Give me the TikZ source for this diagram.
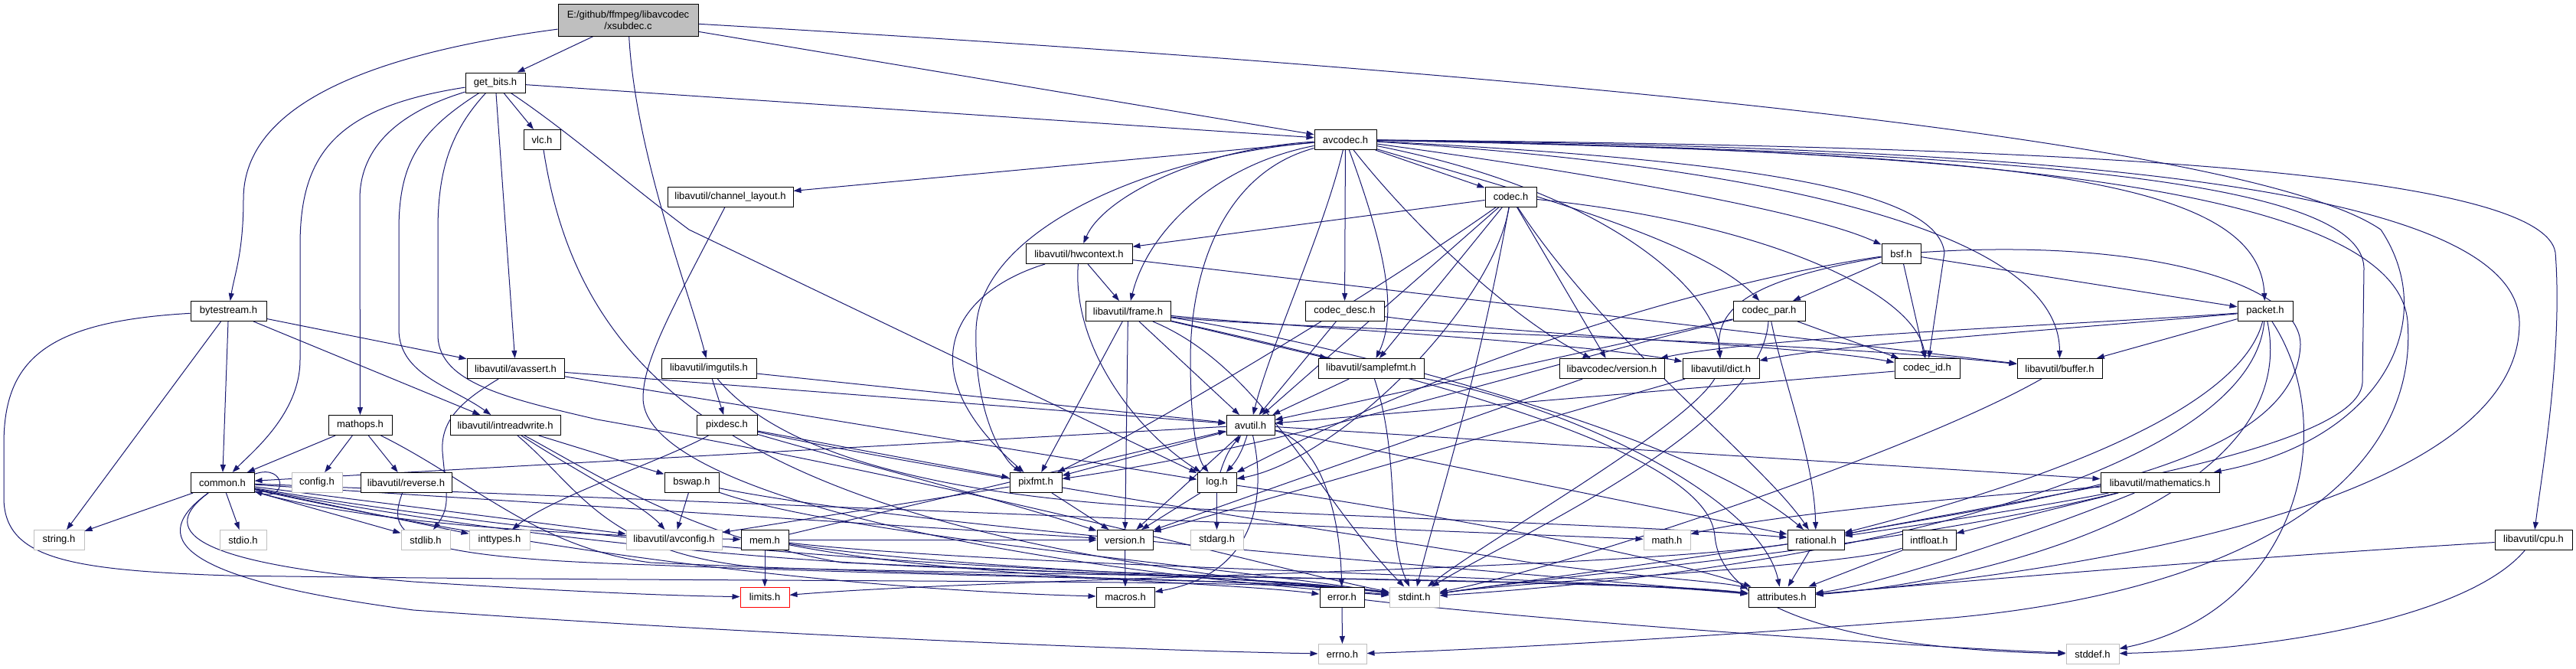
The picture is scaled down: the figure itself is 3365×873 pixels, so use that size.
\documentclass[tikz,border=0pt]{standalone}
\usepackage{fontspec}
\newfontfamily\dfont{Liberation Sans}
\usetikzlibrary{arrows.meta}
\definecolor{edgec}{HTML}{191970}
\definecolor{graybox}{HTML}{BFBFBF}
\pgfdeclarelayer{edgelayer}
\pgfsetlayers{edgelayer,main}
\begin{document}
\begin{tikzpicture}[x=1pt,y=-1pt,
  box/.style={draw=black, fill=white, line width=1pt, minimum height=26pt, inner xsep=2pt, inner ysep=0pt, font=\dfont\fontsize{13}{15}\selectfont},
  ext/.style={box, draw=graybox},
  dep/.style={draw=edgec, line width=1pt, -{Triangle[length=10pt,width=7pt]}}]
\useasboundingbox (0,0) rectangle (3365,873);
% nodes
\node[box, fill=graybox, minimum width=183pt, minimum height=42pt, align=center] (m) at (820.5,26) {E:/github/ffmpeg/libavcodec\\/xsubdec.c};
\node[box, minimum width=78pt] (gb) at (647,108) {get\_bits.h};
\node[box, minimum width=48pt] (vlc) at (708,182.5) {vlc.h};
\node[box, minimum width=81pt] (ac) at (1757.5,182.5) {avcodec.h};
\node[box, minimum width=164pt] (chl) at (954,257) {libavutil/channel\_layout.h};
\node[box, minimum width=67pt] (cdc) at (1973.5,257) {codec.h};
\node[box, minimum width=139pt] (hw) at (1409.5,331.5) {libavutil/hwcontext.h};
\node[box, minimum width=51pt] (bsf) at (2483.5,331.5) {bsf.h};
\node[box, minimum width=99pt] (bs) at (298.5,406.5) {bytestream.h};
\node[box, minimum width=111pt] (fr) at (1473.5,406.5) {libavutil/frame.h};
\node[box, minimum width=103pt] (cdesc) at (1756.5,406.5) {codec\_desc.h};
\node[box, minimum width=94pt] (cpar) at (2311,406.5) {codec\_par.h};
\node[box, minimum width=72pt] (pkt) at (2959,406.5) {packet.h};
\node[box, minimum width=127pt] (aas) at (673.5,481.5) {libavutil/avassert.h};
\node[box, minimum width=124pt] (img) at (926,481.5) {libavutil/imgutils.h};
\node[box, minimum width=138pt] (sfmt) at (1791,481.5) {libavutil/samplefmt.h};
\node[box, minimum width=137pt] (lver) at (2105.5,481.5) {libavcodec/version.h};
\node[box, minimum width=100pt] (dict) at (2248,481.5) {libavutil/dict.h};
\node[box, minimum width=85pt] (cid) at (2517.5,481.5) {codec\_id.h};
\node[box, minimum width=111pt] (buf) at (2690.5,481.5) {libavutil/buffer.h};
\node[box, minimum width=83pt] (mops) at (470.5,555.5) {mathops.h};
\node[box, minimum width=144pt] (irw) at (660,555.5) {libavutil/intreadwrite.h};
\node[box, minimum width=79pt] (pdesc) at (949.5,555.5) {pixdesc.h};
\node[box, minimum width=63pt] (avu) at (1633.5,555.5) {avutil.h};
\node[box, minimum width=83pt] (com) at (290.5,630.5) {common.h};
\node[ext, minimum width=66pt] (cfg) at (414,630.5) {config.h};
\node[box, minimum width=119pt] (rev) at (530.5,630.5) {libavutil/reverse.h};
\node[box, minimum width=71pt] (bsw) at (903.5,630.5) {bswap.h};
\node[box, minimum width=68pt] (pfmt) at (1353,630.5) {pixfmt.h};
\node[box, minimum width=51pt] (log) at (1589.5,630.5) {log.h};
\node[box, minimum width=155pt] (mth) at (2821.5,630.5) {libavutil/mathematics.h};
\node[ext, minimum width=66pt] (str) at (77,705.5) {string.h};
\node[ext, minimum width=61pt] (stdio) at (317.5,705.5) {stdio.h};
\node[ext, minimum width=64pt] (stdlib) at (556,705.5) {stdlib.h};
\node[ext, minimum width=79pt] (intt) at (652.5,705.5) {inttypes.h};
\node[ext, minimum width=125pt] (avcfg) at (880.5,705.5) {libavutil/avconfig.h};
\node[box, minimum width=62pt] (mem) at (999,705.5) {mem.h};
\node[box, minimum width=73pt] (ver) at (1469.5,705.5) {version.h};
\node[ext, minimum width=69pt] (starg) at (1589.5,705.5) {stdarg.h};
\node[ext, minimum width=61pt] (mathh) at (2177.5,705.5) {math.h};
\node[box, minimum width=74pt] (rat) at (2372,705.5) {rational.h};
\node[box, minimum width=70pt] (ifl) at (2520,705.5) {intfloat.h};
\node[box, minimum width=101pt] (cpu) at (3309.5,705.5) {libavutil/cpu.h};
\node[box, draw=red, minimum width=64pt] (lim) at (999,780) {limits.h};
\node[box, minimum width=76pt] (mac) at (1470,780) {macros.h};
\node[box, minimum width=58pt] (err) at (1753,780) {error.h};
\node[ext, minimum width=65pt] (sint) at (1847.5,780) {stdint.h};
\node[box, minimum width=87pt] (attr) at (2327.5,780) {attributes.h};
\node[ext, minimum width=63pt] (errno) at (1753.5,854.5) {errno.h};
\node[ext, minimum width=69pt] (sdef) at (2733.5,854.5) {stddef.h};
% edges
\begin{pgfonlayer}{edgelayer}
% main
\draw[dep] (m) .. controls (450,75) and (318,150) .. (318,260) .. controls (318,330) and (306,360) .. (bs);
\draw[dep] (m) -- (gb);
\draw[dep] (m) .. controls (830,200) and (900,380) .. (img);
\draw[dep] (m) -- (ac);
\draw[dep] (m) .. controls (2100,100) and (2950,190) .. (3110,300) .. controls (3190,420) and (3110,575) .. (mth);
% get_bits
\draw[dep] (gb) .. controls (440,140) and (392,200) .. (392,320) -- (392,470) .. controls (392,540) and (330,590) .. (com);
\draw[dep] (gb) .. controls (510,150) and (470,200) .. (470,260) -- (mops);
\draw[dep] (gb) .. controls (550,170) and (521,210) .. (521,300) -- (521,430) .. controls (521,490) and (590,505) .. (irw);
\draw[dep] (gb) .. controls (590,170) and (572,220) .. (572,300) -- (572,440) .. controls (575,500) and (660,520) .. (780,548) .. controls (1300,640) and (1650,740) .. (sint);
\draw[dep] (gb) -- (aas);
\draw[dep] (gb) -- (vlc);
\draw[dep] (gb) .. controls (740,170) and (820,240) .. (900,300) -- (log);
\draw[dep] (gb) -- (ac);
% vlc
\draw[dep] (vlc) .. controls (760,520) and (1000,700) .. (sint);
% bytestream
\draw[dep] (bs) .. controls (60,420) and (5,470) .. (5,580) -- (5,650) .. controls (5,730) and (90,745) .. (300,752) .. controls (1000,762) and (1700,755) .. (sint);
\draw[dep] (bs) -- (str);
\draw[dep] (bs) -- (com);
\draw[dep] (bs) -- (irw);
\draw[dep] (bs) -- (aas);
% mathops
\draw[dep] (mops) -- (com);
\draw[dep] (mops) -- (cfg);
\draw[dep] (mops) -- (rev);
\draw[dep] (mops) .. controls (620,630) and (700,715) .. (850,735) .. controls (1300,755) and (1700,757) .. (sint);
% avassert
\draw[dep] (aas) .. controls (610,520) and (575,545) .. (578,590) .. controls (582,640) and (590,660) .. (stdlib);
\draw[dep] (aas) -- (avu);
\draw[dep] (aas) -- (log);
% intreadwrite
\draw[dep] (irw) -- (bsw);
\draw[dep] (irw) .. controls (760,620) and (840,660) .. (avcfg);
\draw[dep] (irw) .. controls (760,640) and (790,725) .. (1000,742) .. controls (1600,755) and (2150,760) .. (attr);
\draw[dep] (irw) .. controls (780,620) and (900,700) .. (1100,735) .. controls (1500,752) and (1700,757) .. (sint);
% common
\draw[dep] (com) -- (str);
\draw[dep] (com) -- (stdio);
\draw[dep] (com) -- (stdlib);
\draw[dep] (com) -- (intt);
\draw[dep] (com) -- (avcfg);
\draw[dep] (com) .. controls (195,700) and (220,755) .. (540,797) .. controls (1000,830) and (1500,850) .. (errno);
\draw[dep] (com) .. controls (210,690) and (235,735) .. (540,760) .. controls (700,770) and (850,778) .. (lim);
\draw[dep] (com) -- (mathh);
\draw[dep] (com) .. controls (600,690) and (900,725) .. (1200,740) .. controls (1500,752) and (1700,757) .. (sint);
\draw[dep] (com) .. controls (700,700) and (1200,745) .. (1700,755) .. controls (2000,760) and (2200,765) .. (attr);
\draw[dep] (com) .. controls (700,720) and (1100,770) .. (mac);
\draw[dep] (com) -- (ver);
\draw[dep] (com) .. controls (500,690) and (800,700) .. (mem);
\draw[dep] (com.15) .. controls (375,605) and (375,655) .. (com.-15);
% reverse
\draw[dep] (rev) .. controls (505,700) and (520,728) .. (850,738) .. controls (1300,756) and (1700,757) .. (sint);
% imgutils
\draw[dep] (img) -- (avu);
\draw[dep] (img) -- (pdesc);
\draw[dep] (img) .. controls (1000,570) and (1150,640) .. (1500,662) .. controls (1900,680) and (2200,690) .. (rat);
% pixdesc
\draw[dep] (pdesc) -- (pfmt);
\draw[dep] (pdesc) .. controls (1100,600) and (1300,650) .. (ver);
\draw[dep] (pdesc) .. controls (1200,610) and (1650,680) .. (2000,735) .. controls (2150,755) and (2250,760) .. (attr);
\draw[dep] (pdesc) .. controls (870,600) and (720,650) .. (intt);
% bswap
\draw[dep] (bsw) -- (avcfg);
\draw[dep] (bsw) .. controls (1100,700) and (1600,740) .. (sint);
\draw[dep] (bsw) .. controls (1200,690) and (1900,740) .. (attr);
% avutil
\draw[dep] (avu) -- (com);
\draw[dep] (avu) .. controls (1720,575) and (1750,660) .. (err);
\draw[dep] (avu) -- (rat);
\draw[dep] (avu) -- (ver);
\draw[dep] (avu) .. controls (1655,650) and (1640,750) .. (mac);
\draw[dep] (avu) -- (mth);
\draw[dep] (avu) to[bend left=12] (log);
\draw[dep] (log) to[bend left=12] (avu);
\draw[dep] (avu) -- (pfmt);
% log
\draw[dep] (log) -- (starg);
\draw[dep] (log) -- (ver);
\draw[dep] (log) .. controls (1800,660) and (2150,720) .. (attr);
% pixfmt
\draw[dep] (pfmt) -- (avcfg);
\draw[dep] (pfmt) -- (ver);
% version
\draw[dep] (ver) -- (mac);
% mem
\draw[dep] (mem) -- (lim);
\draw[dep] (mem) -- (ver);
\draw[dep] (mem) -- (avu);
\draw[dep] (mem) .. controls (1250,755) and (1600,760) .. (err);
\draw[dep] (mem) .. controls (1250,745) and (1650,752) .. (sint);
\draw[dep] (mem) .. controls (1300,740) and (2000,750) .. (attr);
% rational
\draw[dep] (rat) -- (sint);
\draw[dep] (rat) .. controls (2100,745) and (1300,755) .. (lim);
\draw[dep] (rat) -- (attr);
% mathematics
\draw[dep] (mth) .. controls (2650,665) and (2480,690) .. (rat);
\draw[dep] (mth) -- (ifl);
\draw[dep] (mth) .. controls (2650,700) and (2450,765) .. (attr);
\draw[dep] (mth) .. controls (2550,650) and (2300,675) .. (mathh);
\draw[dep] (mth) .. controls (2450,720) and (2050,750) .. (sint);
% intfloat
\draw[dep] (ifl) -- (attr);
\draw[dep] (ifl) .. controls (2400,742) and (2000,758) .. (sint);
% error
\draw[dep] (err) -- (errno);
\draw[dep] (err) .. controls (2000,810) and (2500,845) .. (sdef);
% cpu
\draw[dep] (cpu) .. controls (3230,800) and (3000,848) .. (sdef);
\draw[dep] (cpu) .. controls (2900,730) and (2500,765) .. (attr);
% samplefmt
\draw[dep] (sfmt) -- (avu);
\draw[dep] (sfmt) .. controls (1830,600) and (1810,700) .. (sint);
\draw[dep] (sfmt) .. controls (2050,530) and (2300,650) .. (attr);
% libavcodec/version
\draw[dep] (lver) -- (ver);
% dict
\draw[dep] (dict) .. controls (2200,560) and (1950,700) .. (sint);
\draw[dep] (dict) -- (ver);
% codec_id
\draw[dep] (cid) -- (avu);
% buffer
\draw[dep] (buf) .. controls (2500,590) and (2050,740) .. (sint);
% packet
\draw[dep] (pkt) .. controls (3060,560) and (3000,800) .. (sdef);
\draw[dep] (pkt) .. controls (2940,620) and (2400,745) .. (sint);
\draw[dep] (pkt) .. controls (3010,650) and (2600,760) .. (attr);
\draw[dep] (pkt) -- (buf);
\draw[dep] (pkt) .. controls (2700,430) and (2400,450) .. (dict);
\draw[dep] (pkt) .. controls (2700,425) and (2300,440) .. (lver);
\draw[dep] (pkt) .. controls (2920,560) and (2550,660) .. (rat);
% bsf
\draw[dep] (bsf) -- (cpar);
\draw[dep] (bsf) .. controls (2290,365) and (2240,400) .. (dict);
\draw[dep] (bsf) -- (cid);
\draw[dep] (bsf) -- (pkt);
\draw[dep] (bsf) .. controls (2350,350) and (2000,420) .. (log);
\draw[dep] (bsf) .. controls (2800,310) and (3005,370) .. (3005,450) .. controls (3000,620) and (2600,660) .. (rat);
% codec_par
\draw[dep] (cpar) -- (avu);
\draw[dep] (cpar) -- (cid);
\draw[dep] (cpar) .. controls (2330,500) and (2370,600) .. (rat);
\draw[dep] (cpar) .. controls (2000,480) and (1700,580) .. (pfmt);
\draw[dep] (cpar) .. controls (2300,560) and (1980,700) .. (sint);
% codec_desc
\draw[dep] (cdesc) -- (avu);
\draw[dep] (cdesc) .. controls (2000,440) and (2350,450) .. (cid);
% codec
\draw[dep] (cdc) -- (hw);
\draw[dep] (cdc) -- (lver);
\draw[dep] (cdc) .. controls (2300,290) and (2500,380) .. (cid);
\draw[dep] (cdc) -- (avu);
\draw[dep] (cdc) .. controls (1950,400) and (1750,600) .. (log);
\draw[dep] (cdc) .. controls (1800,380) and (1500,560) .. (pfmt);
\draw[dep] (cdc) .. controls (2100,450) and (2300,600) .. (rat);
\draw[dep] (cdc) -- (sfmt);
\draw[dep] (cdc) .. controls (1930,500) and (1880,650) .. (sint);
% hwcontext
\draw[dep] (hw) -- (buf);
\draw[dep] (hw) -- (fr);
\draw[dep] (hw) .. controls (1400,450) and (1480,560) .. (log);
\draw[dep] (hw) .. controls (1250,380) and (1180,480) .. (pfmt);
% frame
\draw[dep] (fr) -- (avu);
\draw[dep] (fr) .. controls (1650,430) and (2300,440) .. (buf);
\draw[dep] (fr) .. controls (1650,425) and (2050,445) .. (dict);
\draw[dep] (fr) .. controls (1700,440) and (2200,560) .. (rat);
\draw[dep] (fr) -- (sfmt);
\draw[dep] (fr) -- (pfmt);
\draw[dep] (fr) -- (ver);
\draw[dep] (fr) .. controls (1800,480) and (2230,580) .. (2240,700) .. controls (2250,820) and (2500,850) .. (sdef);
\draw[dep] (fr) .. controls (1650,480) and (1720,650) .. (sint);
% channel_layout
\draw[dep] (chl) .. controls (880,400) and (840,470) .. (840,520) .. controls (840,640) and (1300,740) .. (sint);
% avcodec
\draw[dep] (ac) .. controls (1800,300) and (1830,400) .. (sfmt);
\draw[dep] (ac) -- (cdesc);
\draw[dep] (ac) -- (cdc);
\draw[dep] (ac) .. controls (1950,240) and (2220,310) .. (cpar);
\draw[dep] (ac) .. controls (2000,215) and (2350,270) .. (bsf);
\draw[dep] (ac) .. controls (2600,200) and (2950,225) .. (pkt);
\draw[dep] (ac) .. controls (2300,210) and (2530,250) .. (2540,330) -- (cid);
\draw[dep] (ac) .. controls (2350,220) and (2690,310) .. (buf);
\draw[dep] (ac) .. controls (2600,190) and (3320,215) .. (3338,330) .. controls (3348,460) and (3320,620) .. (cpu);
\draw[dep] (ac) .. controls (2550,195) and (3130,240) .. (3145,420) .. controls (3160,620) and (2950,770) .. (2551,807) .. controls (2200,835) and (1900,850) .. (errno);
\draw[dep] (ac) .. controls (2600,192) and (3285,230) .. (3291,420) .. controls (3295,650) and (2750,745) .. (attr);
\draw[dep] (ac) .. controls (2600,198) and (3085,230) .. (3088,350) -- (3086,500) .. controls (3080,590) and (2650,650) .. (rat);
\draw[dep] (ac) -- (chl);
\draw[dep] (ac) .. controls (1560,195) and (1440,260) .. (hw);
\draw[dep] (ac) .. controls (1590,215) and (1500,300) .. (fr);
\draw[dep] (ac) .. controls (2100,250) and (2242,380) .. (dict);
\draw[dep] (ac) .. controls (1600,225) and (1555,350) .. (1555,470) .. controls (1555,560) and (1565,600) .. (log);
\draw[dep] (ac) .. controls (1500,205) and (1280,300) .. (1275,430) .. controls (1272,540) and (1310,600) .. (pfmt);
\draw[dep] (ac) .. controls (1730,300) and (1660,450) .. (avu);
\draw[dep] (ac) .. controls (1850,300) and (1980,420) .. (lver);
\end{pgfonlayer}
\end{tikzpicture}
\end{document}
